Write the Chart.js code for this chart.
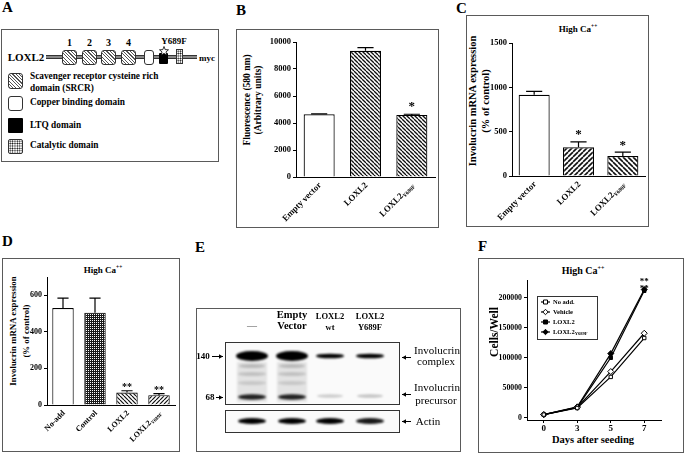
<!DOCTYPE html>
<html>
<head>
<meta charset="utf-8">
<script src="https://cdn.jsdelivr.net/npm/chart.js@4.4.1/dist/chart.umd.min.js"></script>
<style>
  body { margin: 0; background: #fff; }
  #fig { position: relative; width: 685px; height: 454px; overflow: hidden; font-family: "Liberation Serif", "Times New Roman", serif; color: #000; }
  canvas { position: absolute; }
  .box { position: absolute; border: 1.5px solid #5a5a5a; box-sizing: border-box; }
  .lt { position: absolute; font-weight: bold; font-size: 15px; line-height: 1; }
  .t { position: absolute; white-space: nowrap; line-height: 1; font-weight: bold; transform: translate(-50%, -50%); }
  .n { font-weight: normal; }
  .l { position: absolute; white-space: nowrap; line-height: 1; font-weight: bold; transform: translateY(-50%); }
  .r { position: absolute; white-space: nowrap; font-weight: bold; text-align: center; transform: translate(-50%, -50%) rotate(-90deg); }
  sup { font-size: 0.6em; line-height: 0; }
  .srcr { position: absolute; width: 15px; height: 15px; border: 1px solid #333; border-radius: 3px; box-sizing: border-box;
          background: repeating-linear-gradient(45deg, #555 0 0.8px, #fff 0.8px 2.4px); }
  .cu { position: absolute; border: 1px solid #333; border-radius: 3px; box-sizing: border-box; background: #fff; }
  .ltq { position: absolute; background: #000; border-radius: 1px; }
  .cat { position: absolute; border: 1px solid #333; box-sizing: border-box; background-color: #fff;
         background-image: radial-gradient(circle, #000 0.65px, transparent 0.95px); background-size: 2.4px 2.4px; }
</style>
</head>
<body>
<div id="fig">
  <!-- panel letters -->
  <div class="lt" style="left:2px;top:0px">A</div>
  <div class="lt" style="left:236px;top:3px">B</div>
  <div class="lt" style="left:456px;top:1px">C</div>
  <div class="lt" style="left:2px;top:234px">D</div>
  <div class="lt" style="left:195px;top:240px">E</div>
  <div class="lt" style="left:478px;top:239px">F</div>

  <!-- A : domain diagram -->
  <div class="box" style="left:1px;top:29px;width:218px;height:133px"></div>
  <div class="t" style="left:26px;top:57px;font-size:11px">LOXL2</div>
  <div style="position:absolute;left:46px;top:55px;width:151px;height:2px;background:#888;border-top:1px solid #333;border-bottom:1px solid #333"></div>
  <div class="t" style="left:69.5px;top:43px;font-size:10px">1</div>
  <div class="t" style="left:89.5px;top:43px;font-size:10px">2</div>
  <div class="t" style="left:108.5px;top:43px;font-size:10px">3</div>
  <div class="t" style="left:128.5px;top:43px;font-size:10px">4</div>
  <div class="srcr" style="left:62px;top:50px"></div>
  <div class="srcr" style="left:82px;top:50px"></div>
  <div class="srcr" style="left:101px;top:50px"></div>
  <div class="srcr" style="left:121px;top:50px"></div>
  <div class="cu" style="left:144px;top:50px;width:10px;height:15px"></div>
  <div class="ltq" style="left:159px;top:53px;width:9px;height:11px"></div>
  <svg style="position:absolute;left:159px;top:46px" width="10" height="10" viewBox="0 0 10 10">
    <polygon points="5,0.5 6.2,3.6 9.5,3.8 7,5.9 7.8,9.2 5,7.4 2.2,9.2 3,5.9 0.5,3.8 3.8,3.6" fill="#fff" stroke="#000" stroke-width="0.8"/>
  </svg>
  <div class="cat" style="left:176px;top:49px;width:7px;height:15px"></div>
  <div class="t" style="left:174px;top:41px;font-size:9px">Y689F</div>
  <div class="t" style="left:207px;top:58px;font-size:9px">myc</div>

  <div class="srcr" style="left:8px;top:73px;height:16px"></div>
  <div class="cu" style="left:8px;top:96px;width:15px;height:15px"></div>
  <div class="ltq" style="left:8px;top:118px;width:15px;height:15px"></div>
  <div class="cat" style="left:8px;top:139px;width:15px;height:15px;border-radius:2px"></div>
  <div class="l" style="left:30px;top:77px;font-size:9.3px">Scavenger receptor cysteine rich</div>
  <div class="l" style="left:30px;top:89px;font-size:9.3px">domain (SRCR)</div>
  <div class="l" style="left:30px;top:103px;font-size:9.3px">Copper binding domain</div>
  <div class="l" style="left:30px;top:126px;font-size:9.3px">LTQ domain</div>
  <div class="l" style="left:30px;top:146px;font-size:9.3px">Catalytic domain</div>

  <!-- B -->
  <div class="box" style="left:236px;top:29px;width:203px;height:199px"></div>
  <div class="r" style="left:253px;top:100px;font-size:9.5px;line-height:11px">Fluorescence (580 nm)<br>(Arbitrary units)</div>
  <canvas id="chartB"></canvas>

  <!-- C -->
  <div class="box" style="left:466px;top:15px;width:183px;height:212px"></div>
  <div class="t" style="left:578px;top:29px;font-size:9px">High Ca<sup>++</sup></div>
  <div class="r" style="left:479px;top:101px;font-size:10.5px;line-height:13px">Involucrin mRNA expression<br>(% of control)</div>
  <canvas id="chartC"></canvas>

  <!-- D -->
  <div class="box" style="left:2px;top:258px;width:178px;height:194px"></div>
  <div class="t" style="left:103px;top:270px;font-size:9px">High Ca<sup>++</sup></div>
  <div class="r" style="left:20px;top:331px;font-size:8.8px;line-height:13px">Involucrin mRNA expression<br>(% of control)</div>
  <canvas id="chartD"></canvas>

  <!-- E : western blot -->
  <div class="box" style="left:196px;top:308px;width:265px;height:144px"></div>
  <canvas id="blotE"></canvas>
  <div class="t n" style="left:252px;top:326px;font-size:10px;color:#555">—</div>
  <div class="t" style="left:292px;top:315px;font-size:10.5px">Empty</div>
  <div class="t" style="left:292px;top:326px;font-size:10.5px">Vector</div>
  <div class="t" style="left:330px;top:316px;font-size:8.5px">LOXL2</div>
  <div class="t" style="left:330px;top:327px;font-size:8.5px">wt</div>
  <div class="t" style="left:370px;top:316px;font-size:8.5px">LOXL2</div>
  <div class="t" style="left:370px;top:327px;font-size:8.5px">Y689F</div>
  <div class="t" style="left:203px;top:356px;font-size:9px">140</div>
  <div class="t" style="left:210px;top:397px;font-size:9px">68</div>
  <div class="t n" style="left:437px;top:350px;font-size:11px">Involucrin</div>
  <div class="t n" style="left:436px;top:361px;font-size:11px">complex</div>
  <div class="t n" style="left:437px;top:387px;font-size:11px">Involucrin</div>
  <div class="t n" style="left:436px;top:400px;font-size:11px">precursor</div>
  <div class="t n" style="left:428px;top:421px;font-size:11px">Actin</div>

  <!-- F -->
  <div class="box" style="left:478px;top:258px;width:206px;height:195px"></div>
  <div class="t" style="left:583px;top:271px;font-size:10px">High Ca<sup>++</sup></div>
  <div class="r" style="left:494px;top:332px;font-size:11.5px">Cells/Well</div>
  <div class="t" style="left:593px;top:440px;font-size:10.5px">Days after seeding</div>
  <canvas id="chartF"></canvas>
</div>

<script>
const SERIF = '"Liberation Serif", "Times New Roman", serif';

// ---- B : fluorescence ----
const catB = ['Empty vector', 'LOXL2', 'LOXL2Y689F'];
const subB = ['', '', 'Y689F'];
const fluoB = [4650, 9350, 4600];
const fluoErrB = [25, 230, 50];
const starsB = ['', '', '*'];
const ticksB = [0, 2000, 4000, 6000, 8000, 10000];

// ---- C : involucrin mRNA, transfected ----
const catC = ['Empty vector', 'LOXL2', 'LOXL2Y689F'];
const subC = ['', '', 'Y689F'];
const involC = [915, 325, 225];
const involErrC = [40, 60, 45];
const starsC = ['', '*', '*'];
const ticksC = [0, 500, 1000, 1500];

// ---- D : involucrin mRNA, recombinant ----
const catD = ['No-add', 'Control', 'LOXL2', 'LOXL2Y689F'];
const subD = ['', '', '', 'Y689F'];
const involD = [530, 505, 68, 54];
const involErrD = [55, 80, 10, 8];
const starsD = ['', '', '**', '**'];
const ticksD = [0, 200, 400, 600];

// ---- F : cell growth ----
const daysF = ['0', '3', '5', '7'];
const noAddF = [5000, 16000, 68000, 133000];
const vehicleF = [5000, 17000, 77000, 141000];
const loxl2F = [5000, 17000, 100000, 212000];
const mutantF = [5000, 18000, 107000, 214000];
const ticksF = [0, 50000, 100000, 150000, 200000];

// ---- E : blot band intensities (lanes: -, empty vector, LOXL2 wt, LOXL2 Y689F) ----
const laneX = [252, 292, 330, 370];
const complexBand = [1.0, 1.0, 1.0, 1.0];
const precursorBand = [0.85, 0.85, 0.18, 0.22];
const actinBand = [1.0, 1.0, 1.0, 0.9];

function hatch(dir, gap, lw) {
  const c = document.createElement('canvas');
  c.width = c.height = gap;
  const g = c.getContext('2d');
  g.fillStyle = '#fff';
  g.fillRect(0, 0, gap, gap);
  g.strokeStyle = '#111';
  g.lineWidth = lw;
  for (let k = -1; k <= 1; k++) {
    g.beginPath();
    if (dir === '\\') { g.moveTo(k * gap, 0); g.lineTo(k * gap + gap, gap); }
    else { g.moveTo(k * gap, gap); g.lineTo(k * gap + gap, 0); }
    g.stroke();
  }
  return g.createPattern(c, 'repeat');
}

function crossHatch() {
  const c = document.createElement('canvas');
  c.width = c.height = 4;
  const g = c.getContext('2d');
  g.fillStyle = '#1a1a1a';
  g.fillRect(0, 0, 4, 4);
  g.fillStyle = '#fff';
  g.fillRect(0, 0, 1, 1);
  g.fillRect(2, 2, 1, 1);
  g.fillRect(2, 0, 1, 1);
  g.fillRect(0, 2, 1, 1);
  return g.createPattern(c, 'repeat');
}

function place(id, cv, area, yW, xH) {
  const el = document.getElementById(id);
  el.style.left = cv[0] + 'px';
  el.style.top = cv[1] + 'px';
  el.width = cv[2] - cv[0];
  el.height = cv[3] - cv[1];
  return { left: area[0] - cv[0] - yW, top: area[1] - cv[1], right: cv[2] - area[2], bottom: cv[3] - area[3] - xH };
}

function yScale(min, max, ticks, size, w) {
  return {
    type: 'linear', min: min, max: max, bounds: 'data',
    ticks: { color: '#000', padding: 2, font: { family: SERIF, weight: 'bold', size: size }, callback: v => String(v) },
    grid: { drawOnChartArea: false, tickLength: 3, color: '#000', lineWidth: 1 },
    border: { color: '#000', width: 1 },
    afterFit: function (s) { s.width = w; },
    afterBuildTicks: function (s) { s.ticks = ticks.map(v => ({ value: v })); }
  };
}

function xBarScale(h) {
  return {
    ticks: { display: false },
    grid: { drawOnChartArea: false, drawTicks: false },
    border: { color: '#000', width: 1 },
    afterFit: function (s) { s.height = h; }
  };
}

// rotated category labels with subscript
const xLabels = {
  id: 'xlab',
  afterDraw(chart, args, o) {
    const ctx = chart.ctx, x = chart.scales.x, bottom = chart.chartArea.bottom;
    ctx.save();
    ctx.fillStyle = '#000';
    ctx.textBaseline = 'middle';
    ctx.textAlign = 'left';
    chart.data.labels.forEach((lab, i) => {
      const sub = o.sub[i] || '';
      const main = lab.slice(0, lab.length - sub.length);
      ctx.save();
      ctx.translate(x.getPixelForValue(i) + o.dx, bottom + o.dy);
      ctx.rotate(-Math.PI / 4);
      ctx.font = 'bold ' + (o.size * 0.62) + 'px ' + SERIF;
      const ws = sub ? ctx.measureText(sub).width : 0;
      ctx.font = 'bold ' + o.size + 'px ' + SERIF;
      const wm = ctx.measureText(main).width;
      ctx.fillText(main, -wm - ws, 0);
      if (sub) {
        ctx.font = 'bold ' + (o.size * 0.62) + 'px ' + SERIF;
        ctx.fillText(sub, -ws, o.size * 0.3);
      }
      ctx.restore();
    });
    ctx.restore();
  }
};

// error bars (upper only) and significance stars
const errBars = {
  id: 'errs',
  afterDatasetsDraw(chart, args, o) {
    const ctx = chart.ctx, y = chart.scales.y;
    const meta = chart.getDatasetMeta(0);
    const vals = chart.data.datasets[0].data;
    ctx.save();
    ctx.strokeStyle = '#000';
    ctx.lineWidth = o.lw;
    meta.data.forEach((bar, i) => {
      const e = o.err[i];
      const y0 = y.getPixelForValue(vals[i]);
      const y1 = y.getPixelForValue(vals[i] + e);
      const hw = bar.width * o.cap;
      ctx.beginPath();
      ctx.moveTo(bar.x, y0);
      ctx.lineTo(bar.x, y1);
      ctx.moveTo(bar.x - hw, y1);
      ctx.lineTo(bar.x + hw, y1);
      ctx.stroke();
      if (o.stars[i]) {
        ctx.fillStyle = '#000';
        ctx.font = 'bold ' + o.starSize + 'px ' + SERIF;
        ctx.textAlign = 'center';
        ctx.textBaseline = 'alphabetic';
        ctx.fillText(o.stars[i], bar.x, y1 - o.gap + o.starSize * 0.5);
      }
    });
    ctx.restore();
  }
};

function barChart(id, cv, area, yW, labels, subs, data, errs, stars, fills, ymax, ticks, o) {
  const pad = place(id, cv, area, yW, 10);
  return new Chart(document.getElementById(id), {
    type: 'bar',
    data: {
      labels: labels,
      datasets: [{
        data: data,
        backgroundColor: fills,
        borderColor: '#000',
        borderWidth: o.bw,
        barPercentage: o.bp,
        categoryPercentage: 1
      }]
    },
    options: {
      responsive: false, animation: false, devicePixelRatio: 1, events: [],
      layout: { padding: pad },
      scales: { x: xBarScale(10), y: yScale(0, ymax, ticks, o.tick, yW) },
      plugins: {
        legend: { display: false }, tooltip: { enabled: false },
        xlab: { sub: subs, size: o.lab, dx: 1, dy: 7 },
        errs: { err: errs, stars: stars, cap: 0.26, lw: 1.2, gap: o.gap, starSize: o.star }
      }
    },
    plugins: [xLabels, errBars]
  });
}

barChart('chartB', [238, 31, 437, 226], [296, 42, 435, 177], 30,
  catB, subB, fluoB, fluoErrB, starsB,
  ['#fff', hatch('\\', 4, 1.3), hatch('\\', 4, 1.3)], 10000, ticksB,
  { bw: 1.2, bp: 0.67, tick: 8.5, lab: 8.8, gap: 11, star: 13 });

barChart('chartC', [468, 17, 647, 226], [512, 43, 645, 176], 28,
  catC, subC, involC, involErrC, starsC,
  ['#fff', hatch('/', 5, 1.6), hatch('\\', 5, 1.6)], 1500, ticksC,
  { bw: 1.2, bp: 0.7, tick: 8.5, lab: 8.8, gap: 10, star: 13 });

barChart('chartD', [4, 260, 178, 450], [47, 277, 175, 405], 24,
  catD, subD, involD, involErrD, starsD,
  ['#fff', crossHatch(), hatch('\\', 4, 1.2), hatch('/', 4, 1.2)], 700, ticksD,
  { bw: 1.1, bp: 0.67, tick: 8, lab: 8, gap: 6, star: 10 });

// ---- F : line chart ----
function markerPath(ctx, style, x, y, r) {
  ctx.beginPath();
  if (style === 'rect') ctx.rect(x - r, y - r, 2 * r, 2 * r);
  else {
    const q = r * 1.35;
    ctx.moveTo(x, y - q); ctx.lineTo(x + q, y); ctx.lineTo(x, y + q); ctx.lineTo(x - q, y); ctx.closePath();
  }
}

const legendF = {
  id: 'legF',
  afterDraw(chart, args, o) {
    const ctx = chart.ctx;
    ctx.save();
    ctx.strokeStyle = '#333';
    ctx.lineWidth = 1;
    ctx.fillStyle = '#fff';
    ctx.fillRect(o.x, o.y, o.w, o.h);
    ctx.strokeRect(o.x + 0.5, o.y + 0.5, o.w, o.h);
    chart.data.datasets.forEach((ds, i) => {
      const yy = o.y + o.first + i * o.step;
      ctx.strokeStyle = '#000';
      ctx.lineWidth = 1.2;
      ctx.beginPath();
      ctx.moveTo(o.x + 4, yy);
      ctx.lineTo(o.x + 13, yy);
      ctx.stroke();
      markerPath(ctx, ds.pointStyle, o.x + 8.5, yy, 2);
      ctx.fillStyle = ds.pointBackgroundColor;
      ctx.fill();
      ctx.lineWidth = 1;
      ctx.stroke();
      const sub = o.sub[i] || '';
      const main = ds.label.slice(0, ds.label.length - sub.length);
      ctx.fillStyle = '#000';
      ctx.textBaseline = 'middle';
      ctx.textAlign = 'left';
      ctx.font = 'bold 6.5px ' + SERIF;
      ctx.fillText(main, o.x + 16, yy);
      if (sub) {
        const w = ctx.measureText(main).width;
        ctx.font = 'bold 4.5px ' + SERIF;
        ctx.fillText(sub, o.x + 16 + w, yy + 1.5);
      }
    });
    // significance stars at day 7
    const x = chart.scales.x, y = chart.scales.y;
    const top = Math.min(...chart.data.datasets.map(ds => y.getPixelForValue(ds.data[3])));
    ctx.font = 'bold 9px ' + SERIF;
    ctx.textAlign = 'center';
    ctx.textBaseline = 'alphabetic';
    o.stars.forEach((s, k) => ctx.fillText(s, x.getPixelForValue(3), top + 1 - k * 7));
    ctx.restore();
  }
};

function lineSet(label, data, style, fill) {
  return {
    label: label, data: data,
    borderColor: '#000', borderWidth: 1.2, tension: 0,
    pointStyle: style, pointRadius: style === 'rect' ? 2.4 : 3,
    pointBackgroundColor: fill, pointBorderColor: '#000', pointBorderWidth: 1
  };
}

const cvF = [480, 260, 683, 452];
const padF = place('chartF', cvF, [527, 280, 661, 420], 40, 16);
new Chart(document.getElementById('chartF'), {
  type: 'line',
  data: {
    labels: daysF,
    datasets: [
      lineSet('No add.', noAddF, 'rect', '#fff'),
      lineSet('Vehicle', vehicleF, 'rectRot', '#fff'),
      lineSet('LOXL2', loxl2F, 'rect', '#000'),
      lineSet('LOXL2Y689F', mutantF, 'rectRot', '#000')
    ]
  },
  options: {
    responsive: false, animation: false, devicePixelRatio: 1, events: [],
    layout: { padding: padF },
    scales: {
      x: {
        type: 'category', offset: true,
        ticks: { color: '#000', padding: 0, font: { family: SERIF, weight: 'bold', size: 9 } },
        grid: { drawOnChartArea: false, offset: false, tickLength: 3, color: '#000' },
        border: { color: '#000', width: 1 },
        afterFit: function (s) { s.height = 16; }
      },
      y: yScale(-4000, 230000, ticksF, 7.8, 40)
    },
    plugins: {
      legend: { display: false }, tooltip: { enabled: false },
      legF: { x: 57, y: 36, w: 60, h: 43, first: 6, step: 10, sub: ['', '', '', 'Y689F'], stars: ['**', '**'] }
    }
  },
  plugins: [legendF]
});

// ---- E : blot drawing ----
(function drawBlot() {
  const ox = 196, oy = 308;
  const cv = document.getElementById('blotE');
  cv.style.left = ox + 'px';
  cv.style.top = oy + 'px';
  cv.width = 265;
  cv.height = 144;
  const g = cv.getContext('2d');
  g.translate(-ox, -oy);

  function band(x, y, rx, ry, a) {
    g.fillStyle = 'rgba(0,0,0,' + a + ')';
    g.beginPath();
    g.ellipse(x, y, rx, ry, 0, 0, Math.PI * 2);
    g.fill();
  }

  // main blot
  g.save();
  g.beginPath();
  g.rect(225, 342, 174, 62);
  g.clip();
  g.fillStyle = '#fafafa';
  g.fillRect(225, 342, 174, 62);
  g.filter = 'blur(1.1px)';
  laneX.forEach((x, i) => {
    if (i < 2) {
      g.fillStyle = 'rgba(0,0,0,0.09)';
      g.fillRect(x - 15, 362, 30, 40);
      band(x, 366, 13, 2, 0.18);
      band(x, 374, 14, 2, 0.15);
      band(x, 383, 14, 2, 0.12);
      band(x, 356, 16, 5, complexBand[i]);
      band(x, 397, 14, 2.8, precursorBand[i]);
    } else {
      band(x, 356, 14, 2.3, complexBand[i]);
      band(x, 396, 13, 1.8, precursorBand[i]);
    }
  });
  g.restore();
  g.strokeStyle = '#333';
  g.lineWidth = 1;
  g.strokeRect(225.5, 342.5, 174, 62);

  // actin
  g.save();
  g.beginPath();
  g.rect(225, 410, 174, 22);
  g.clip();
  g.fillStyle = '#fafafa';
  g.fillRect(225, 410, 174, 22);
  g.filter = 'blur(1.1px)';
  laneX.forEach((x, i) => band(x, 421, 14, 3, actinBand[i]));
  g.restore();
  g.strokeRect(225.5, 410.5, 174, 22);

  // arrows
  function arrow(x1, x2, y) {
    g.strokeStyle = '#000';
    g.fillStyle = '#000';
    g.lineWidth = 1;
    g.beginPath();
    g.moveTo(x1, y);
    g.lineTo(x2, y);
    g.stroke();
    const d = x2 > x1 ? 1 : -1;
    g.beginPath();
    g.moveTo(x2, y);
    g.lineTo(x2 - d * 4, y - 2.2);
    g.lineTo(x2 - d * 4, y + 2.2);
    g.closePath();
    g.fill();
  }
  arrow(212, 223, 356.5);
  arrow(216, 223, 397.5);
  arrow(411, 402, 357.5);
  arrow(411, 402, 394.5);
  arrow(411, 402, 421.5);
})();
</script>
</body>
</html>
